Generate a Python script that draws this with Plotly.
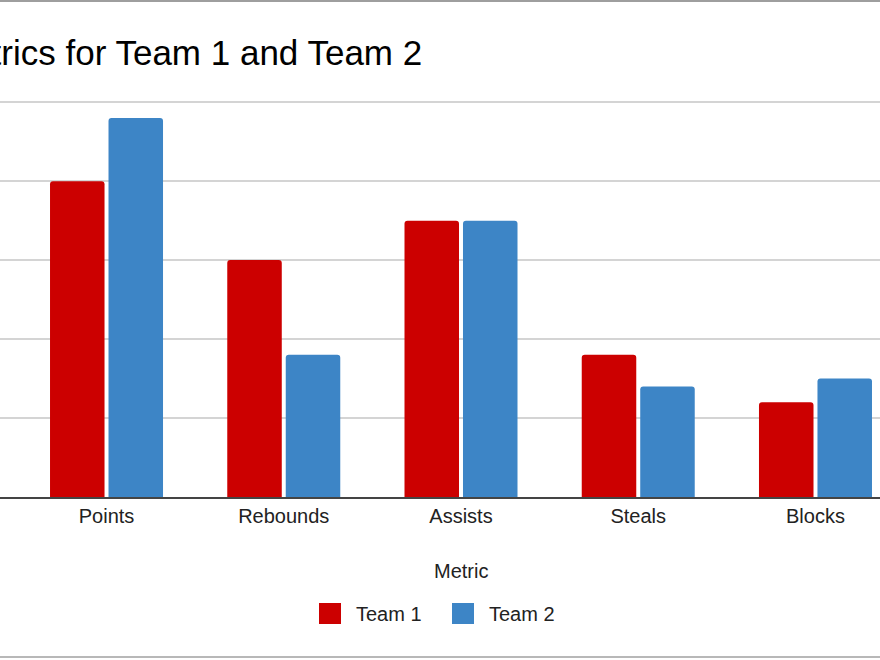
import plotly.graph_objects as go

categories = ["Points", "Rebounds", "Assists", "Steals", "Blocks"]
team1 = [80, 60, 70, 36, 24]
team2 = [96, 36, 70, 28, 30]
series_names = ["Team 1", "Team 2"]
colors = ["#cc0000", "#3d85c6"]
title_text = "Metrics for Team 1 and Team 2"
x_title = "Metric"

W, H = 880, 660
T, B = 101, 163
PH = H - T - B
FONT = "Arial, Liberation Sans, sans-serif"


def py(px):
    return (H - B - px) / PH


fig = go.Figure()
for name, vals, col in zip(series_names, [team1, team2], colors):
    fig.add_trace(go.Bar(
        x=categories, y=vals, name=name,
        marker=dict(color=col, line=dict(width=0), cornerradius=3),
        showlegend=False,
    ))

fig.update_layout(
    width=W, height=H,
    margin=dict(l=0, r=0, t=T, b=B, pad=0),
    paper_bgcolor="white", plot_bgcolor="white",
    barmode="group", bargap=0.34, bargroupgap=0.068,
    font=dict(family=FONT, size=20, color="#222222"),
    xaxis=dict(
        range=[-0.601, 4.364], showgrid=False, showline=True,
        linecolor="#444444", linewidth=1.5, ticks="",
        tickfont=dict(size=20, color="#222222"), fixedrange=True,
    ),
    yaxis=dict(
        range=[0, 100.3], tickvals=[20, 40, 60, 80, 100], showgrid=True,
        gridcolor="#d4d4d4", gridwidth=1.5, showticklabels=False,
        zeroline=False, ticks="", fixedrange=True,
    ),
)

anns = [
    dict(text=title_text, xref="paper", yref="paper", x=424 / W, y=py(52),
         xanchor="right", yanchor="middle", showarrow=False,
         font=dict(size=35, color="#000000", family=FONT)),
    dict(text=x_title, xref="x", yref="paper", x=2, y=py(571),
         xanchor="center", yanchor="middle", showarrow=False,
         font=dict(size=20, color="#222222", family=FONT)),
]
shapes = []
leg_x = [319, 452]
for i, (name, col) in enumerate(zip(series_names, colors)):
    x0 = leg_x[i]
    shapes.append(dict(type="rect", xref="paper", yref="paper",
                       x0=x0 / W, x1=(x0 + 22) / W, y0=py(624), y1=py(603),
                       fillcolor=col, line=dict(width=0)))
    anns.append(dict(text=name, xref="paper", yref="paper", x=(x0 + 35) / W,
                     y=py(613.5), xanchor="left", yanchor="middle", showarrow=False,
                     font=dict(size=20, color="#222222", family=FONT)))

# frame lines of the crop
shapes.append(dict(type="line", xref="paper", yref="paper", x0=0, x1=1,
                   y0=py(1), y1=py(1), line=dict(color="#9e9e9e", width=2)))
shapes.append(dict(type="line", xref="paper", yref="paper", x0=0, x1=1,
                   y0=py(657), y1=py(657), line=dict(color="#b8b8b8", width=2)))

fig.update_layout(annotations=anns, shapes=shapes)
fig.write_html(
    "out.html",
    config={"displayModeBar": False},
    post_script="document.body.style.margin='0';document.body.style.overflow='hidden';",
)
